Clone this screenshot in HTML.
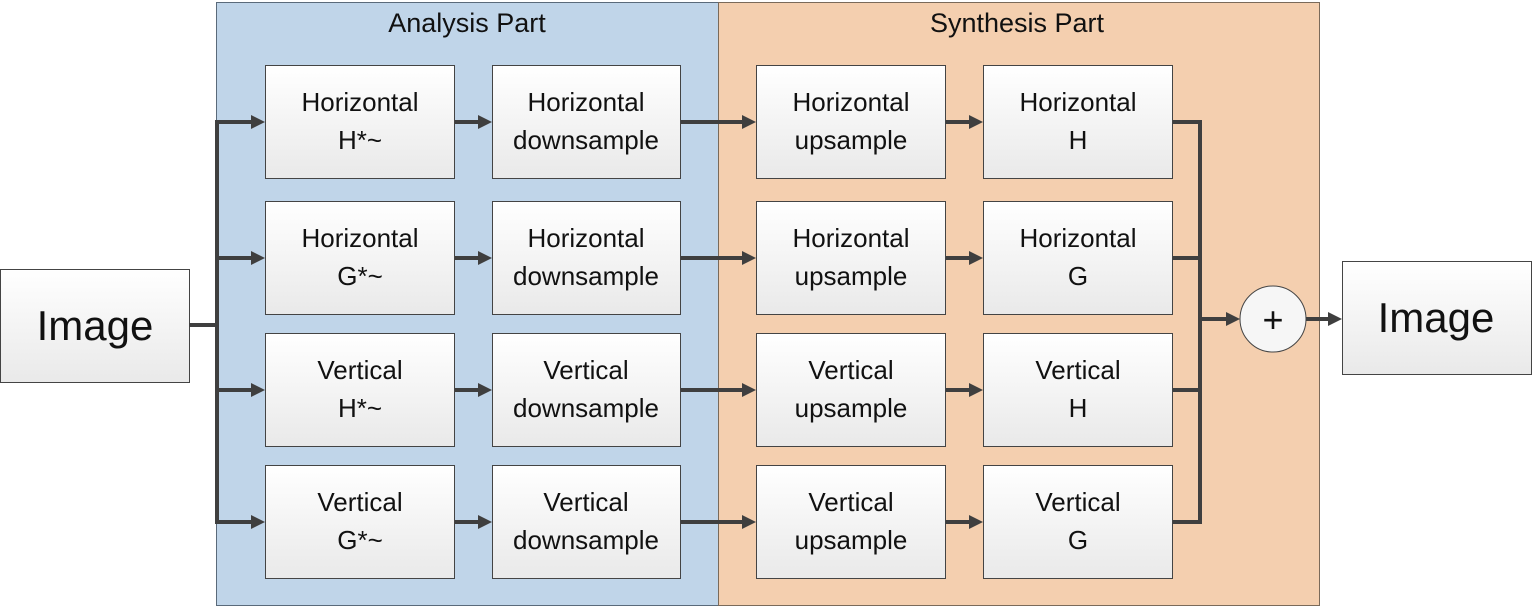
<!DOCTYPE html>
<html><head><meta charset="utf-8"><style>
body{margin:0;background:#fff}
svg text{font-family:"Liberation Sans",sans-serif;fill:#111;text-anchor:middle}
</style></head><body>
<svg width="1534" height="608" xmlns="http://www.w3.org/2000/svg">
<defs>
<linearGradient id="g" x1="0" y1="0" x2="0" y2="1"><stop offset="0" stop-color="#ffffff"/><stop offset="1" stop-color="#e9e9e9"/></linearGradient>
<symbol id="ah" viewBox="0 0 14 14" width="14" height="14" overflow="visible"><path d="M0,0 L14,7 L0,14 z" fill="#3f3f3f"/></symbol>
</defs>
<rect x="216.5" y="2.5" width="502" height="603" fill="#c0d5e9" stroke="#5a6a7a"/>
<rect x="718.5" y="2.5" width="601" height="603" fill="#f4cfaf" stroke="#7a6a5a"/>
<text x="467" y="32" font-size="27">Analysis Part</text>
<text x="1017" y="32" font-size="27">Synthesis Part</text>
<g stroke="#444" stroke-width="1" fill="url(#g)">
<rect x="0.5" y="269.5" width="189" height="113"/>
<rect x="1342.5" y="261.5" width="189" height="113"/>
<circle cx="1273" cy="319" r="33" fill="#f6f6f6"/>
</g>
<text x="95" y="340" font-size="42">Image</text>
<text x="1436" y="332" font-size="42">Image</text>
<text x="1273" y="332" font-size="36">+</text>
<g stroke="#3f3f3f" stroke-width="4" fill="none">
<path d="M189 325 H217 M217 120 V524"/>
<path d="M1172 122 H1200 M1172 258 H1200 M1172 390 H1200 M1172 522 H1200 M1200 120 V524"/>
<path d="M1200 319 H1228 M1306 319 H1330"/>
<path d="M217 122 H252 M454 122 H480 M680 122 H744 M945 122 H971"/>
<path d="M217 258 H252 M454 258 H480 M680 258 H744 M945 258 H971"/>
<path d="M217 390 H252 M454 390 H480 M680 390 H744 M945 390 H971"/>
<path d="M217 522 H252 M454 522 H480 M680 522 H744 M945 522 H971"/>
</g>
<g fill="#3f3f3f">
<path d="M1226 312 L1240 319 L1226 326 z"/><path d="M1328 312 L1342 319 L1328 326 z"/>
<path d="M251 115 L265 122 L251 129 z"/><path d="M478 115 L492 122 L478 129 z"/><path d="M742 115 L756 122 L742 129 z"/><path d="M969 115 L983 122 L969 129 z"/>
<path d="M251 251 L265 258 L251 265 z"/><path d="M478 251 L492 258 L478 265 z"/><path d="M742 251 L756 258 L742 265 z"/><path d="M969 251 L983 258 L969 265 z"/>
<path d="M251 383 L265 390 L251 397 z"/><path d="M478 383 L492 390 L478 397 z"/><path d="M742 383 L756 390 L742 397 z"/><path d="M969 383 L983 390 L969 397 z"/>
<path d="M251 515 L265 522 L251 529 z"/><path d="M478 515 L492 522 L478 529 z"/><path d="M742 515 L756 522 L742 529 z"/><path d="M969 515 L983 522 L969 529 z"/>
</g>
<g fill="url(#g)" stroke="#444">
<rect x="265.5" y="65.5" width="189" height="113"/><rect x="492.5" y="65.5" width="188" height="113"/><rect x="756.5" y="65.5" width="189" height="113"/><rect x="983.5" y="65.5" width="189" height="113"/>
<rect x="265.5" y="201.5" width="189" height="113"/><rect x="492.5" y="201.5" width="188" height="113"/><rect x="756.5" y="201.5" width="189" height="113"/><rect x="983.5" y="201.5" width="189" height="113"/>
<rect x="265.5" y="333.5" width="189" height="113"/><rect x="492.5" y="333.5" width="188" height="113"/><rect x="756.5" y="333.5" width="189" height="113"/><rect x="983.5" y="333.5" width="189" height="113"/>
<rect x="265.5" y="465.5" width="189" height="113"/><rect x="492.5" y="465.5" width="188" height="113"/><rect x="756.5" y="465.5" width="189" height="113"/><rect x="983.5" y="465.5" width="189" height="113"/>
</g>
<g font-size="26">
<text x="360" y="111">Horizontal</text><text x="360" y="149">H*~</text>
<text x="586" y="111">Horizontal</text><text x="586" y="149">downsample</text>
<text x="851" y="111">Horizontal</text><text x="851" y="149">upsample</text>
<text x="1078" y="111">Horizontal</text><text x="1078" y="149">H</text>

<text x="360" y="247">Horizontal</text><text x="360" y="285">G*~</text>
<text x="586" y="247">Horizontal</text><text x="586" y="285">downsample</text>
<text x="851" y="247">Horizontal</text><text x="851" y="285">upsample</text>
<text x="1078" y="247">Horizontal</text><text x="1078" y="285">G</text>

<text x="360" y="379">Vertical</text><text x="360" y="417">H*~</text>
<text x="586" y="379">Vertical</text><text x="586" y="417">downsample</text>
<text x="851" y="379">Vertical</text><text x="851" y="417">upsample</text>
<text x="1078" y="379">Vertical</text><text x="1078" y="417">H</text>

<text x="360" y="511">Vertical</text><text x="360" y="549">G*~</text>
<text x="586" y="511">Vertical</text><text x="586" y="549">downsample</text>
<text x="851" y="511">Vertical</text><text x="851" y="549">upsample</text>
<text x="1078" y="511">Vertical</text><text x="1078" y="549">G</text>
</g>
</svg>
</body></html>
